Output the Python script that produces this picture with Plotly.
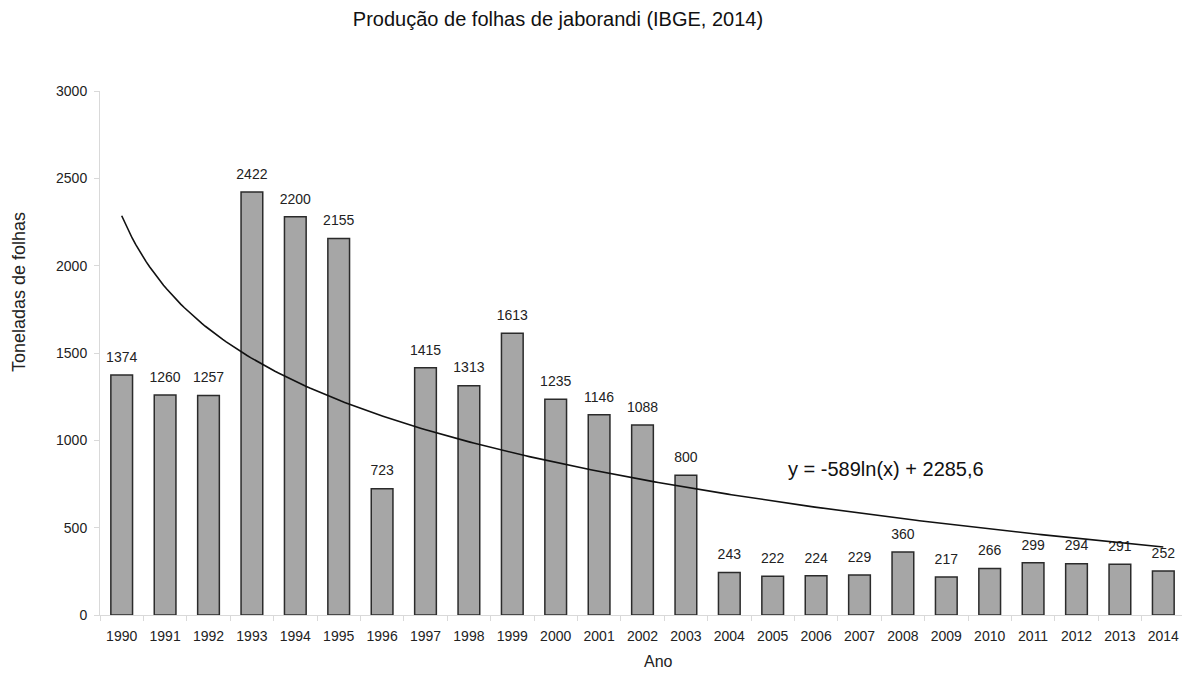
import numpy as np
import plotly.graph_objects as go

# Produção de folhas de jaborandi (IBGE, 2014)
anos = list(range(1990, 2015))
toneladas = [1374, 1260, 1257, 2422, 2280, 2155, 723, 1415, 1313, 1613,
             1235, 1146, 1088, 800, 243, 222, 224, 229, 360, 217,
             266, 299, 294, 291, 252]
rotulos = ["1374", "1260", "1257", "2422", "2200", "2155", "723", "1415", "1313", "1613",
           "1235", "1146", "1088", "800", "243", "222", "224", "229", "360", "217",
           "266", "299", "294", "291", "252"]

# logarithmic trend shown on the chart: y = a*ln(x) + b, x = 1..25
trend_a = -589.0
trend_b = 2285.6

FONT = "Liberation Sans, Arial, sans-serif"
TXT = "#222222"
AXIS_GRAY = "#d9d9d9"

# the page body adds an 8px margin, so the figure is a bit smaller than the window
W, H = 1182, 671
ML, MR, MT, MB = 92, 5, 83, 64
plot_w = W - ML - MR
plot_h = H - MT - MB


def px_to_paper(sx, sy):
    """screen pixel (as in the reference picture) -> paper coords"""
    return (sx - 8 - ML) / plot_w, (H - MB - (sy - 8)) / plot_h


fig = go.Figure()

fig.add_trace(go.Bar(
    x=anos,
    y=toneladas,
    marker=dict(color="#a6a6a6", line=dict(color="#2b2b2b", width=1.5)),
    showlegend=False,
))

# value labels above the bars
fig.add_trace(go.Scatter(
    x=anos,
    y=toneladas,
    text=rotulos,
    mode="markers+text",
    marker=dict(size=14, opacity=0),
    textposition="top center",
    textfont=dict(family=FONT, size=14, color=TXT),
    cliponaxis=False,
    showlegend=False,
    hoverinfo="skip",
))

# trend curve from the equation, drawn across the category centres
tx = np.linspace(1, len(anos), 300)
fig.add_trace(go.Scatter(
    x=anos[0] - 1 + tx,
    y=trend_a * np.log(tx) + trend_b,
    mode="lines",
    line=dict(color="#111111", width=1.6),
    showlegend=False,
    hoverinfo="skip",
))

ex, ey = px_to_paper(886, 469)
fig.add_annotation(
    x=ex, y=ey, xref="paper", yref="paper", xanchor="center", yanchor="middle",
    text="y = -589ln(x) + 2285,6",
    showarrow=False,
    font=dict(family=FONT, size=20, color="#111111"),
)
tx_, ty_ = px_to_paper(19, 292)
fig.add_annotation(
    x=tx_, y=ty_, xref="paper", yref="paper", xanchor="center", yanchor="middle",
    text="Toneladas de folhas", textangle=-90,
    showarrow=False,
    font=dict(family=FONT, size=18, color=TXT),
)
ax_, ay_ = px_to_paper(658, 661)
fig.add_annotation(
    x=ax_, y=ay_, xref="paper", yref="paper", xanchor="center", yanchor="middle",
    text="Ano",
    showarrow=False,
    font=dict(family=FONT, size=16, color=TXT),
)

fig.update_layout(
    width=W,
    height=H,
    paper_bgcolor="white",
    plot_bgcolor="white",
    bargap=0.5,
    margin=dict(l=ML, r=MR, t=MT, b=MB),
    title=dict(
        text="Produção de folhas de jaborandi (IBGE, 2014)",
        x=(558 - 8) / W, xanchor="center", y=1 - (19 - 8) / H, yanchor="middle",
        font=dict(family=FONT, size=20, color="#111111"),
    ),
    font=dict(family=FONT, size=13, color=TXT),
    xaxis=dict(
        range=[anos[0] - 0.5, anos[-1] + 0.5],
        tickvals=anos,
        ticktext=[str(a) for a in anos],
        ticks="",
        ticklabelstandoff=8,
        automargin=False,
        showgrid=False,
        zeroline=False,
        showline=True,
        linecolor=AXIS_GRAY,
        linewidth=1,
        tickfont=dict(family=FONT, size=14, color=TXT),
        minor=dict(
            tickvals=[a - 0.5 for a in anos] + [anos[-1] + 0.5],
            ticks="outside", ticklen=5, tickcolor=AXIS_GRAY, showgrid=False,
        ),
    ),
    yaxis=dict(
        range=[0, 3000],
        tickvals=[0, 500, 1000, 1500, 2000, 2500, 3000],
        ticks="outside",
        ticklen=5,
        tickcolor=AXIS_GRAY,
        ticklabelstandoff=4,
        automargin=False,
        showgrid=False,
        zeroline=False,
        showline=True,
        linecolor=AXIS_GRAY,
        linewidth=1,
        tickfont=dict(family=FONT, size=14, color=TXT),
    ),
)

fig.write_html("out.html")
